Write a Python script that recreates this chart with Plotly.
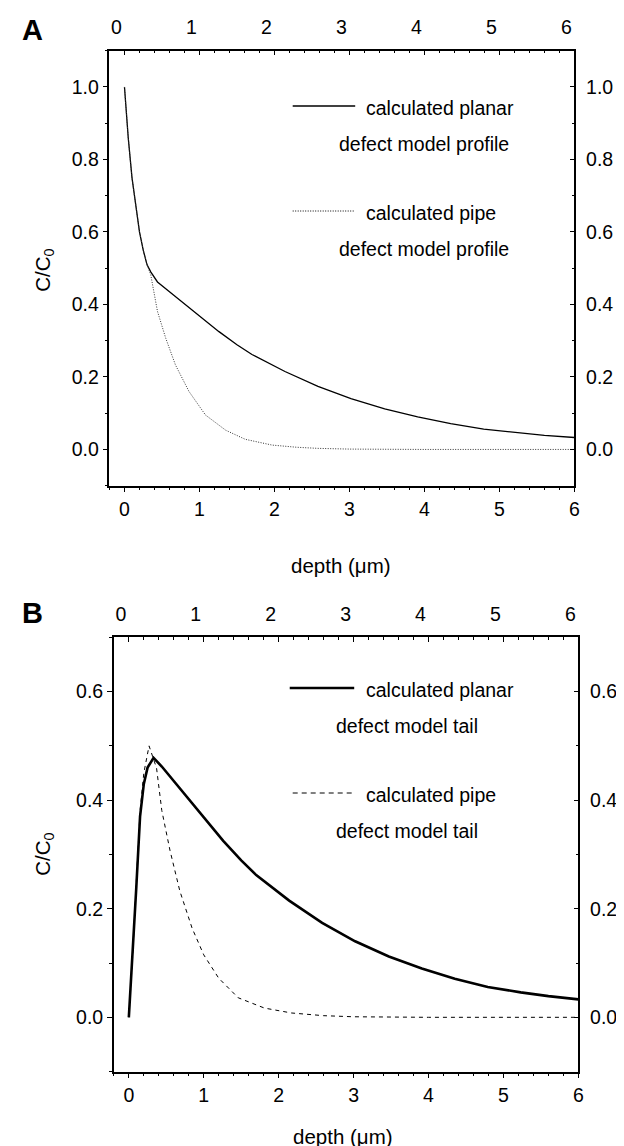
import plotly.graph_objects as go

# ---------------- data ----------------
# Panel A : calculated profiles
depth_planar_A = [0, 0.05, 0.1, 0.15, 0.2, 0.25, 0.3, 0.35, 0.44, 0.6, 0.82, 1.0, 1.26,
                  1.5, 1.7, 2.14, 2.58, 3.02, 3.47, 3.91, 4.35, 4.79, 5.23, 5.6, 6.0]
planar_A = [1.0, 0.86, 0.75, 0.68, 0.60, 0.55, 0.51, 0.49, 0.462, 0.435, 0.399, 0.369, 0.325,
            0.289, 0.262, 0.215, 0.174, 0.140, 0.112, 0.090, 0.071, 0.056, 0.046, 0.039, 0.033]

depth_pipe_A = [0, 0.05, 0.1, 0.15, 0.2, 0.25, 0.3, 0.35, 0.44, 0.55, 0.68, 0.86, 1.08,
                1.35, 1.61, 1.97, 2.3, 2.58, 3.0, 4.0, 5.0, 6.0]
pipe_A = [1.0, 0.86, 0.75, 0.68, 0.60, 0.55, 0.51, 0.482, 0.381, 0.307, 0.233, 0.160, 0.095,
          0.053, 0.028, 0.012, 0.006, 0.003, 0.001, 0.0, 0.0, 0.0]

# Panel B : calculated tails
depth_planar_B = [0, 0.05, 0.1, 0.15, 0.2, 0.25, 0.33, 0.44, 0.56, 0.82, 1.0, 1.26, 1.5,
                  1.7, 2.14, 2.58, 3.02, 3.47, 3.91, 4.35, 4.79, 5.23, 5.6, 6.0]
planar_B = [0.0, 0.11, 0.24, 0.37, 0.43, 0.46, 0.478, 0.462, 0.442, 0.399, 0.369, 0.325, 0.289,
            0.262, 0.215, 0.174, 0.140, 0.112, 0.090, 0.071, 0.056, 0.046, 0.039, 0.033]

depth_pipe_B = [0, 0.05, 0.1, 0.15, 0.2, 0.27, 0.37, 0.44, 0.55, 0.68, 0.845, 1.0, 1.2,
                1.46, 1.81, 2.17, 2.6, 3.0, 4.0, 5.0, 6.0]
pipe_B = [0.0, 0.11, 0.25, 0.38, 0.45, 0.50, 0.459, 0.381, 0.307, 0.233, 0.164, 0.115, 0.072,
          0.036, 0.017, 0.008, 0.003, 0.001, 0.0, 0.0, 0.0]

x_ticks = [0, 1, 2, 3, 4, 5, 6]
y_ticks_A = [0.0, 0.2, 0.4, 0.6, 0.8, 1.0]
y_ticks_B = [0.0, 0.2, 0.4, 0.6]

W, H = 624, 1146
FONT = "Liberation Sans, Arial, Helvetica, sans-serif"
TICKF = 19.5
TEXTF = 19.5
TITLEF = 20.5


def px(x):
    return x / W


def py(y):
    return 1 - y / H


# panel geometry (pixels)
A_x0, A_x1, A_y0, A_y1 = 102.3, 571.0, 42.7, 477.7
B_x0, B_x1, B_y0, B_y1 = 106.7, 575.0, 629.3, 1063.6

fig = go.Figure()

# planar curves on the bottom/left axes, pipe curves on the top/right axes
# (identical ranges, so both share the same scale)
fig.add_trace(go.Scatter(x=depth_planar_A, y=planar_A, mode="lines",
                         line=dict(color="black", width=1.3), xaxis="x", yaxis="y",
                         showlegend=False))
fig.add_trace(go.Scatter(x=depth_pipe_A, y=pipe_A, mode="lines",
                         line=dict(color="#333", width=1, dash="1px,1.5px"),
                         xaxis="x2", yaxis="y2", showlegend=False))
fig.add_trace(go.Scatter(x=depth_planar_B, y=planar_B, mode="lines",
                         line=dict(color="black", width=2.6), xaxis="x3", yaxis="y3",
                         showlegend=False))
fig.add_trace(go.Scatter(x=depth_pipe_B, y=pipe_B, mode="lines",
                         line=dict(color="black", width=1, dash="4px,4px"),
                         xaxis="x4", yaxis="y4", showlegend=False))

axis_common = dict(showgrid=False, zeroline=False, showline=True, linecolor="black",
                   linewidth=1.5, tickcolor="black", tickwidth=1.2,
                   tickfont=dict(family=FONT, size=TICKF, color="black"))


def minor(d, where):
    return dict(dtick=d, tick0=0, ticks=where, ticklen=3, tickcolor="black", tickwidth=1.2)


xr = [-0.2, 6.0]
BOT_SO, TOP_SO, RIGHT_SO, TOP_SHIFT = 0, 7, 6, -8
fig.update_layout(
    # Panel A axes
    xaxis=dict(domain=[px(A_x0), px(A_x1)], range=xr, anchor="y", side="bottom",
               tickvals=x_ticks, ticks="outside", ticklen=5, ticklabelstandoff=BOT_SO,
               minor=minor(0.2, "outside"), **axis_common),
    xaxis2=dict(overlaying="x", range=xr, anchor="y2", side="top",
                tickvals=x_ticks, ticks="inside", ticklen=5, ticklabelshift=TOP_SHIFT,
                ticklabelstandoff=TOP_SO, minor=minor(0.2, "inside"), **axis_common),
    yaxis=dict(domain=[py(A_y1), py(A_y0)], range=[-0.1, 1.1], anchor="x", side="left",
               tickvals=y_ticks_A, tickformat=".1f", ticks="outside", ticklen=5,
               minor=minor(0.1, "outside"), **axis_common),
    yaxis2=dict(overlaying="y", range=[-0.1, 1.1], anchor="x2", side="right",
                tickvals=y_ticks_A, tickformat=".1f", ticks="inside", ticklen=5,
                ticklabelstandoff=RIGHT_SO, minor=minor(0.1, "inside"), **axis_common),
    # Panel B axes
    xaxis3=dict(domain=[px(B_x0), px(B_x1)], range=xr, anchor="y3", side="bottom",
                tickvals=x_ticks, ticks="outside", ticklen=5, ticklabelstandoff=BOT_SO,
                minor=minor(0.2, "outside"), **axis_common),
    xaxis4=dict(overlaying="x3", range=xr, anchor="y4", side="top",
                tickvals=x_ticks, ticks="inside", ticklen=5, ticklabelshift=TOP_SHIFT,
                ticklabelstandoff=TOP_SO, minor=minor(0.2, "inside"), **axis_common),
    yaxis3=dict(domain=[py(B_y1), py(B_y0)], range=[-0.1, 0.7], anchor="x3", side="left",
                tickvals=y_ticks_B, tickformat=".1f", ticks="outside", ticklen=5,
                minor=minor(0.1, "outside"), **axis_common),
    yaxis4=dict(overlaying="y3", range=[-0.1, 0.7], anchor="x4", side="right",
                tickvals=y_ticks_B, tickformat=".1f", ticks="inside", ticklen=5,
                ticklabelstandoff=RIGHT_SO, minor=minor(0.1, "inside"), **axis_common),
)

annotations = []
shapes = []


def text(x, y, s, size=TEXTF, anchor="left", bold=False, angle=0):
    annotations.append(dict(x=px(x), y=py(y), xref="paper", yref="paper", text=s,
                            showarrow=False, xanchor=anchor, yanchor="middle",
                            textangle=angle, borderpad=0,
                            font=dict(family=FONT, size=size, color="black",
                                      weight="bold" if bold else "normal")))


def sample(x0, x1, y, width, dash):
    shapes.append(dict(type="line", xref="paper", yref="paper", x0=px(x0), x1=px(x1),
                       y0=py(y), y1=py(y), line=dict(color="black", width=width, dash=dash)))


# Panel labels
text(13, 22, "A", size=29, bold=True)
text(13, 605, "B", size=29, bold=True)

# Panel A legend
sample(287, 350, 98, 1.3, "solid")
text(360, 100, "calculated planar")
text(333, 136, "defect model profile")
sample(287, 350, 203, 1, "1px,1.5px")
text(360, 205, "calculated pipe")
text(333, 241, "defect model profile")

# Panel B legend
sample(284, 349, 680, 2.6, "solid")
text(360, 682, "calculated planar")
text(330, 718, "defect model tail")
sample(287, 350, 785, 1, "5px,4px")
text(360, 787, "calculated pipe")
text(330, 823, "defect model tail")

# Axis titles
text(336, 557, "depth (μm)", size=TITLEF, anchor="center")
text(338, 1128, "depth (μm)", size=TITLEF, anchor="center")
text(36, 262, "C/C<sub>0</sub>", size=TITLEF, anchor="center", angle=-90)
text(36, 846, "C/C<sub>0</sub>", size=TITLEF, anchor="center", angle=-90)

fig.update_layout(
    width=W, height=H, margin=dict(l=0, r=0, t=0, b=0),
    paper_bgcolor="white", plot_bgcolor="white",
    annotations=annotations, shapes=shapes, showlegend=False,
)

fig.write_html("out.html")
